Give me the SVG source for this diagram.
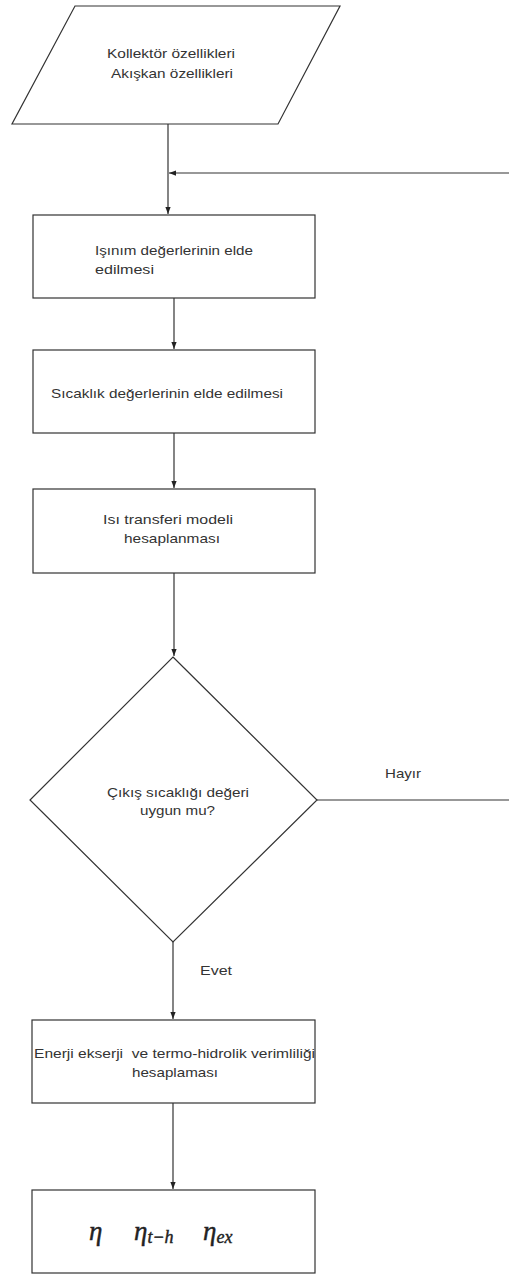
<svg xmlns="http://www.w3.org/2000/svg" width="509" height="1275" viewBox="0 0 509 1275">
<defs>
<style>
.shape{fill:#fff;stroke:#333;stroke-width:1.2}
.conn{fill:none;stroke:#333;stroke-width:1.2}
.t{font-family:"Liberation Sans",Arial,sans-serif;font-size:13.5px;fill:#333}
.c{text-anchor:middle}
.m{font-family:"Liberation Serif","Times New Roman",serif;font-style:italic;fill:#222;stroke:#222;stroke-width:0.4}
</style>
<marker id="arr" viewBox="0 0 8 8" refX="8" refY="4" markerWidth="7" markerHeight="7" orient="auto" markerUnits="userSpaceOnUse">
<path d="M0,1 L8,4 L0,7 Z" fill="#222"/>
</marker>
</defs>
<rect width="509" height="1275" fill="#fff"/>
<g id="connectors">
<path class="conn" d="M168,124 V214" marker-end="url(#arr)"/>
<path class="conn" d="M509,173 H169" marker-end="url(#arr)"/>
<path class="conn" d="M174,298 V349" marker-end="url(#arr)"/>
<path class="conn" d="M174,433 V488" marker-end="url(#arr)"/>
<path class="conn" d="M174,573 V656" marker-end="url(#arr)"/>
<path class="conn" d="M317,800 H509"/>
<path class="conn" d="M173,942 V1019" marker-end="url(#arr)"/>
<path class="conn" d="M173,1103 V1189" marker-end="url(#arr)"/>
<text class="t" x="385" y="778" textLength="36" lengthAdjust="spacingAndGlyphs">Hayır</text>
<text class="t" x="200" y="975" textLength="32" lengthAdjust="spacingAndGlyphs">Evet</text>
</g>
<g id="input">
<polygon class="shape" points="75,6 340,6 278,124 12,124"/>
<text class="t" x="107" y="58" textLength="128" lengthAdjust="spacingAndGlyphs">Kollektör özellikleri</text>
<text class="t" x="111" y="78" textLength="122" lengthAdjust="spacingAndGlyphs">Akışkan özellikleri</text>
</g>
<g id="isinim">
<rect class="shape" x="33" y="215" width="282" height="83"/>
<text class="t" x="95" y="255" textLength="158" lengthAdjust="spacingAndGlyphs">Işınım değerlerinin elde</text>
<text class="t" x="95" y="274" textLength="59" lengthAdjust="spacingAndGlyphs">edilmesi</text>
</g>
<g id="sicaklik">
<rect class="shape" x="33" y="350" width="282" height="83"/>
<text class="t" x="51" y="398" textLength="232" lengthAdjust="spacingAndGlyphs">Sıcaklık değerlerinin elde edilmesi</text>
</g>
<g id="isi">
<rect class="shape" x="33" y="489" width="282" height="84"/>
<text class="t" x="103" y="524" textLength="130" lengthAdjust="spacingAndGlyphs">Isı transferi modeli</text>
<text class="t" x="124" y="543" textLength="96" lengthAdjust="spacingAndGlyphs">hesaplanması</text>
</g>
<g id="karar">
<polygon class="shape" points="173,657 317,800 173,942 30,800"/>
<text class="t" x="107" y="797" textLength="142" lengthAdjust="spacingAndGlyphs">Çıkış sıcaklığı değeri</text>
<text class="t" x="140" y="815" textLength="75" lengthAdjust="spacingAndGlyphs">uygun mu?</text>
</g>
<g id="verim">
<rect class="shape" x="32" y="1020" width="283" height="83"/>
<text class="t" x="34" y="1058" textLength="281" lengthAdjust="spacingAndGlyphs" xml:space="preserve">Enerji ekserji  ve termo-hidrolik verimliliği</text>
<text class="t" x="132" y="1077" textLength="86" lengthAdjust="spacingAndGlyphs">hesaplaması</text>
</g>
<g id="sonuc">
<rect class="shape" x="32" y="1190" width="283" height="83"/>
<text class="m" x="89" y="1240" font-size="27">η</text>
<text class="m" x="134" y="1240" font-size="27">η<tspan font-size="18" dy="3">t−h</tspan></text>
<text class="m" x="203" y="1240" font-size="27">η<tspan font-size="18" dy="3">ex</tspan></text>
</g>
</svg>
